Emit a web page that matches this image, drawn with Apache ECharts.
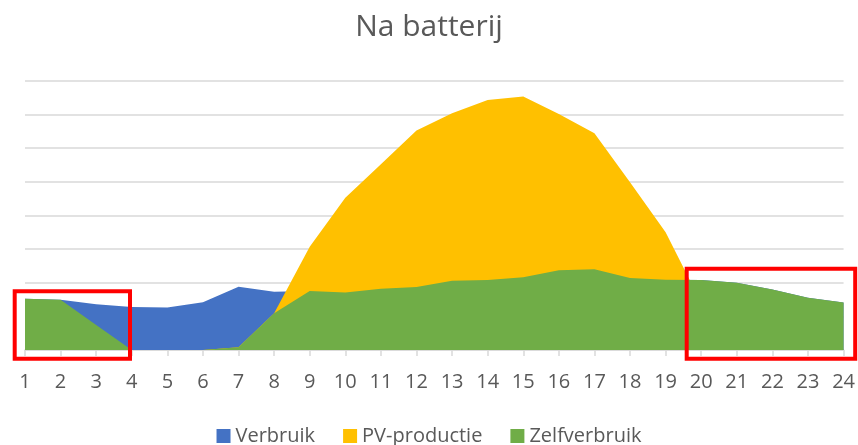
<!DOCTYPE html>
<html>
<head>
<meta charset="utf-8">
<title>Na batterij</title>
<script src="https://cdn.jsdelivr.net/npm/echarts@6/dist/echarts.min.js"></script>
<style>
    html, body { margin: 0; padding: 0; background: #fff; }
    #chart { width: 858px; height: 445px; }
</style>
</head>
<body>
<div id="chart"></div>
<script>
    // uren van de dag
    var hours = ['1', '2', '3', '4', '5', '6', '7', '8', '9', '10', '11', '12',
        '13', '14', '15', '16', '17', '18', '19', '20', '21', '22', '23', '24']
    // verbruik per uur (in rasterlijn-eenheden, geen as-labels in origineel)
    var verbruik = [1.52, 1.49, 1.36, 1.28, 1.26, 1.42, 1.88, 1.73, 1.75, 1.71, 1.82, 1.87,
        2.06, 2.08, 2.16, 2.37, 2.40, 2.14, 2.09, 2.08, 2.00, 1.80, 1.55, 1.41]
    // PV-productie per uur
    var pvProductie = [0, 0, 0, 0, 0, 0, 0.08, 1.09, 3.07, 4.52, 5.52, 6.52,
        7.03, 7.43, 7.53, 7.01, 6.44, 4.98, 3.50, 1.40, 0.40, 0, 0, 0]
    // zelfverbruik per uur
    var zelfverbruik = [1.52, 1.49, 0.74, 0, 0, 0, 0.08, 1.09, 1.75, 1.71, 1.82, 1.87,
        2.06, 2.08, 2.16, 2.37, 2.40, 2.14, 2.09, 2.08, 2.00, 1.80, 1.55, 1.41]

    var textColor = '#595959'
    var font = 'Open Sans'

    function areaSeries(name, data, color) {
        return {
            name: name,
            type: 'line',
            data: data,
            symbol: 'none',
            lineStyle: { width: 0, color: color },
            areaStyle: { color: color, opacity: 1 },
            itemStyle: { color: color }
        }
    }

    var myChart = echarts.init(document.getElementById('chart'))
    myChart.setOption({
        animation: false,
        title: {
            text: 'Na batterij',
            left: 'center',
            top: 7,
            textStyle: { fontFamily: font, fontSize: 30, fontWeight: 'normal', color: textColor }
        },
        legend: {
            data: ['Verbruik', 'PV-productie', 'Zelfverbruik'],
            top: 421,
            left: 'center',
            icon: 'rect',
            itemWidth: 14,
            itemHeight: 14,
            itemGap: 28,
            itemStyle: { borderWidth: 0 },
            textStyle: { fontFamily: font, fontSize: 20, color: textColor }
        },
        grid: {
            left: 25,
            right: 14,
            top: 80.7,
            bottom: 95
        },
        xAxis: {
            type: 'category',
            boundaryGap: false,
            data: hours,
            axisLine: { lineStyle: { color: '#d9d9d9', width: 1.5 } },
            axisTick: { length: 6, lineStyle: { color: '#d9d9d9', width: 1.5 } },
            axisLabel: { margin: 22, fontFamily: font, fontSize: 20, color: textColor }
        },
        yAxis: {
            type: 'value',
            min: 0,
            max: 8,
            interval: 1,
            axisLabel: { show: false },
            axisLine: { show: false },
            axisTick: { show: false },
            splitLine: { lineStyle: { color: '#d9d9d9', width: 1.5 } }
        },
        series: [
            areaSeries('Verbruik', verbruik, '#4472c4'),
            areaSeries('PV-productie', pvProductie, '#ffc000'),
            areaSeries('Zelfverbruik', zelfverbruik, '#70ad47')
        ],
        // rode kaders die in het origineel over de grafiek zijn getekend
        graphic: [
            {
                type: 'rect',
                z: 100,
                shape: { x: 14.7, y: 291.3, width: 115.3, height: 67.5 },
                style: { fill: null, stroke: '#ff0000', lineWidth: 4 }
            },
            {
                type: 'rect',
                z: 100,
                shape: { x: 686.7, y: 268.7, width: 168.5, height: 90.1 },
                style: { fill: null, stroke: '#ff0000', lineWidth: 4 }
            }
        ]
    })
</script>
</body>
</html>
